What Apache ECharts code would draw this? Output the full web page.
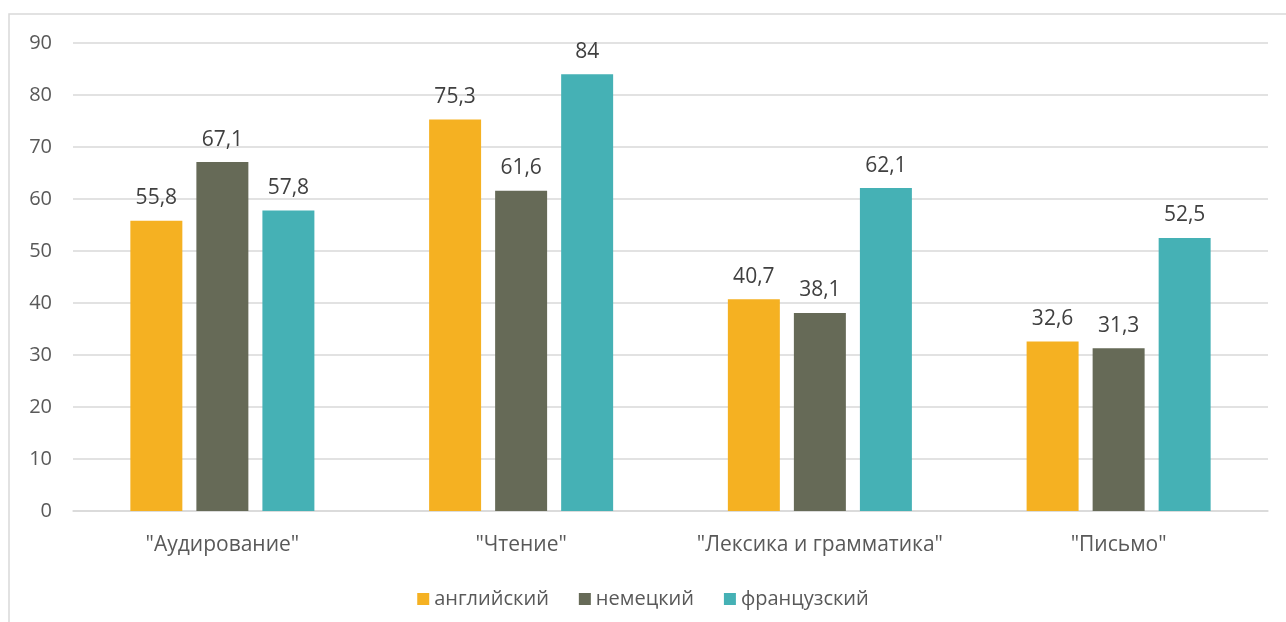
<!DOCTYPE html>
<html><head><meta charset="utf-8">
<script src="https://cdn.jsdelivr.net/npm/echarts@6/dist/echarts.min.js"></script>
<style>html,body{margin:0;padding:0;background:#fff}#c{width:1286px;height:622px}</style>
</head><body><div id="c"></div>
<script>
const categories = ['"Аудирование"', '"Чтение"', '"Лексика и грамматика"', '"Письмо"'];
const seriesNames = ['английский', 'немецкий', 'французский'];
const english = [55.8, 75.3, 40.7, 32.6];
const german = [67.1, 61.6, 38.1, 31.3];
const french = [57.8, 84, 62.1, 52.5];
const colors = ['#F5B122', '#666A57', '#45B1B5'];
const font = 'Open Sans';
const chart = echarts.init(document.getElementById('c'));
const lbl = {show: true, position: 'top', distance: 12, color: '#404040', fontSize: 21, fontFamily: font,
  formatter: p => String(p.value).replace('.', ',')};
chart.setOption({
  animation: false,
  graphic: [{type: 'rect', shape: {x: 9, y: 14, width: 1300, height: 700}, style: {fill: 'none', stroke: '#d9d9d9', lineWidth: 1.5}, silent: true}],
  grid: {left: 73, right: 18, top: 43, bottom: 111, containLabel: false},
  legend: {bottom: 8, left: 'center', itemWidth: 12, itemHeight: 12, itemGap: 30, icon: 'rect',
    textStyle: {color: '#595959', fontSize: 20, fontFamily: font}, data: seriesNames},
  xAxis: {type: 'category', data: categories,
    axisLine: {lineStyle: {color: '#d9d9d9', width: 1.5}}, axisTick: {show: false},
    axisLabel: {color: '#595959', fontSize: 21, fontFamily: font, margin: 24, interval: 0}},
  yAxis: {type: 'value', min: 0, max: 90, interval: 10,
    axisLine: {show: false}, axisTick: {show: false},
    splitLine: {lineStyle: {color: '#d9d9d9', width: 1.5}},
    axisLabel: {color: '#595959', fontSize: 20, fontFamily: font, margin: 21}},
  series: [
    {name: seriesNames[0], type: 'bar', data: english, itemStyle: {color: colors[0]}, label: lbl, barGap: '27%', barCategoryGap: '38.4%'},
    {name: seriesNames[1], type: 'bar', data: german, itemStyle: {color: colors[1]}, label: lbl},
    {name: seriesNames[2], type: 'bar', data: french, itemStyle: {color: colors[2]}, label: lbl}
  ]
});
</script></body></html>
